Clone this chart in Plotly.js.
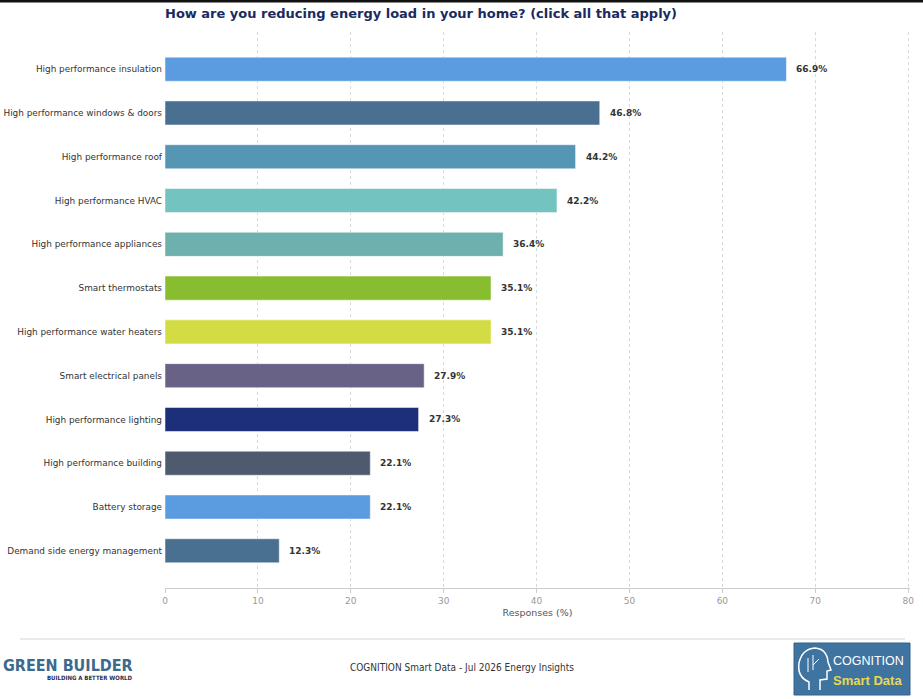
<!DOCTYPE html>
<html>
<head>
<meta charset="utf-8">
<script src="https://cdn.plot.ly/plotly-3.0.1.min.js"></script>
<style>
html,body{margin:0;padding:0;background:#fff;}
#chart{width:923px;height:699px;}
</style>
</head>
<body>
<div id="chart"></div>
<script>
const categories = [
  "High performance insulation",
  "High performance windows & doors",
  "High performance roof",
  "High performance HVAC",
  "High performance appliances",
  "Smart thermostats",
  "High performance water heaters",
  "Smart electrical panels",
  "High performance lighting",
  "High performance building",
  "Battery storage",
  "Demand side energy management"
];
const values = [66.9, 46.8, 44.2, 42.2, 36.4, 35.1, 35.1, 27.9, 27.3, 22.1, 22.1, 12.3];
const barColors = ["#5b9bdf", "#4a7091", "#5596b4", "#73c3c1", "#6db0ae", "#87bd2e",
                   "#d3dd43", "#686287", "#1e2f79", "#4e5b6f", "#5b9bdf", "#4a7091"];
const xTicks = [0, 10, 20, 30, 40, 50, 60, 70, 80];
const titleText = "How are you reducing energy load in your home? (click all that apply)";
const xTitle = "Responses (%)";
const footerText = "COGNITION Smart Data - Jul 2026 Energy Insights";

const PL = 165, PR = 910, PT = 32, PB = 588;
const px = v => (v - PL) / (PR - PL);
const py = v => (PB - v) / (PB - PT);

const trace = {
  type: "bar",
  orientation: "h",
  y: categories,
  x: values,
  width: 0.55,
  marker: {color: barColors, line: {color: "rgba(255,255,255,0.5)", width: 1}},
  hoverinfo: "x+y"
};

const annotations = values.map((v, i) => ({
  x: v, y: categories[i], xref: "x", yref: "y",
  text: v.toFixed(1) + "%", showarrow: false,
  xanchor: "left", yanchor: "middle", xshift: 8,
  font: {family: "DejaVu Sans", size: 9, color: "#333333", weight: "bold"}
}));

annotations.push({
  xref: "paper", yref: "paper", x: px(462), y: py(667),
  text: footerText, showarrow: false, xanchor: "center", yanchor: "middle",
  font: {family: "DejaVu Sans Condensed, DejaVu Sans", size: 10, color: "#333333"}
});
annotations.push({
  xref: "paper", yref: "paper", x: px(1), y: py(665),
  text: "<b>GREEN BUILDER</b>", showarrow: false, xanchor: "left", yanchor: "middle",
  font: {family: "DejaVu Sans Condensed, DejaVu Sans", size: 16, color: "#3c6a8d"}
});
annotations.push({
  xref: "paper", yref: "paper", x: px(134), y: py(678),
  text: "<b>BUILDING A BETTER WORLD</b>", showarrow: false, xanchor: "right", yanchor: "middle",
  font: {family: "DejaVu Sans Condensed, DejaVu Sans", size: 6, color: "#1f2f4f"}
});
annotations.push({
  xref: "paper", yref: "paper", x: px(831), y: py(661),
  text: "COGNITION", showarrow: false, xanchor: "left", yanchor: "middle",
  font: {family: "Liberation Sans", size: 12.5, color: "#ffffff"}
});
annotations.push({
  xref: "paper", yref: "paper", x: px(831), y: py(680),
  text: "<b>Smart Data</b>", showarrow: false, xanchor: "left", yanchor: "middle",
  font: {family: "Liberation Sans", size: 13, color: "#e8d94c"}
});

function hx(v){return px(v);} function hy(v){return py(v);}
const headPath = "M " + hx(809) + "," + hy(690) + " L " + hx(809) + "," + hy(682) +
  " Q " + hx(797) + "," + hy(677) + " " + hx(799) + "," + hy(663) +
  " Q " + hx(802) + "," + hy(649) + " " + hx(815) + "," + hy(648) +
  " Q " + hx(827) + "," + hy(649) + " " + hx(828) + "," + hy(662) +
  " L " + hx(831) + "," + hy(670) + " L " + hx(827) + "," + hy(671) +
  " L " + hx(827) + "," + hy(679) + " L " + hx(820) + "," + hy(680) +
  " L " + hx(820) + "," + hy(690);

const shapes = [
  {type: "rect", xref: "paper", yref: "paper", x0: px(0), x1: px(923), y0: py(2.5), y1: py(0),
   fillcolor: "#111111", line: {width: 0}},
  {type: "line", xref: "paper", yref: "paper", x0: px(20), x1: px(905), y0: py(639), y1: py(639),
   line: {color: "#e3e3e3", width: 1.5}},
  {type: "rect", xref: "paper", yref: "paper", x0: px(794), x1: px(910), y0: py(695), y1: py(643),
   fillcolor: "#3f73a0", line: {color: "#35618a", width: 1}},
  {type: "path", xref: "paper", yref: "paper", path: headPath,
   line: {color: "#ffffff", width: 1.5}},
  {type: "line", xref: "paper", yref: "paper", x0: px(808), x1: px(808), y0: py(672), y1: py(658),
   line: {color: "#ffffff", width: 1}},
  {type: "line", xref: "paper", yref: "paper", x0: px(813), x1: px(813), y0: py(670), y1: py(655),
   line: {color: "#ffffff", width: 1}},
  {type: "line", xref: "paper", yref: "paper", x0: px(813), x1: px(819), y0: py(665), y1: py(659),
   line: {color: "#ffffff", width: 1}}
];

const layout = {
  width: 923, height: 699,
  margin: {l: PL, r: 923 - PR, t: PT, b: 699 - PB, pad: 0},
  paper_bgcolor: "#ffffff", plot_bgcolor: "#ffffff",
  showlegend: false,
  title: {
    text: "<b>" + titleText + "</b>",
    x: px(165), xref: "paper", xanchor: "left",
    y: 1 - 13 / 699, yref: "container", yanchor: "middle",
    font: {family: "DejaVu Sans", size: 13, color: "#1b2a5e"}
  },
  xaxis: {
    range: [0, 80.2],
    tickvals: xTicks,
    ticktext: xTicks.map(String),
    showgrid: true, gridcolor: "#d9d9d9", griddash: "dot", gridwidth: 1,
    zeroline: false,
    showline: true, linecolor: "#cccccc", linewidth: 1,
    ticks: "outside", ticklen: 4, tickcolor: "#cccccc",
    tickfont: {family: "DejaVu Sans", size: 9, color: "#999999"},
    title: {text: xTitle, standoff: 4, font: {family: "DejaVu Sans", size: 9.5, color: "#555555"}},
    fixedrange: true
  },
  yaxis: {
    type: "category",
    categoryorder: "array", categoryarray: categories,
    range: [11.85, -0.85],
    showgrid: false, zeroline: false, showline: false,
    ticks: "", ticklabelstandoff: 2,
    tickfont: {family: "DejaVu Sans", size: 8.9, color: "#333333"},
    fixedrange: true
  },
  annotations: annotations,
  shapes: shapes
};

Plotly.newPlot("chart", [trace], layout, {displayModeBar: false, responsive: false});
</script>
</body>
</html>
